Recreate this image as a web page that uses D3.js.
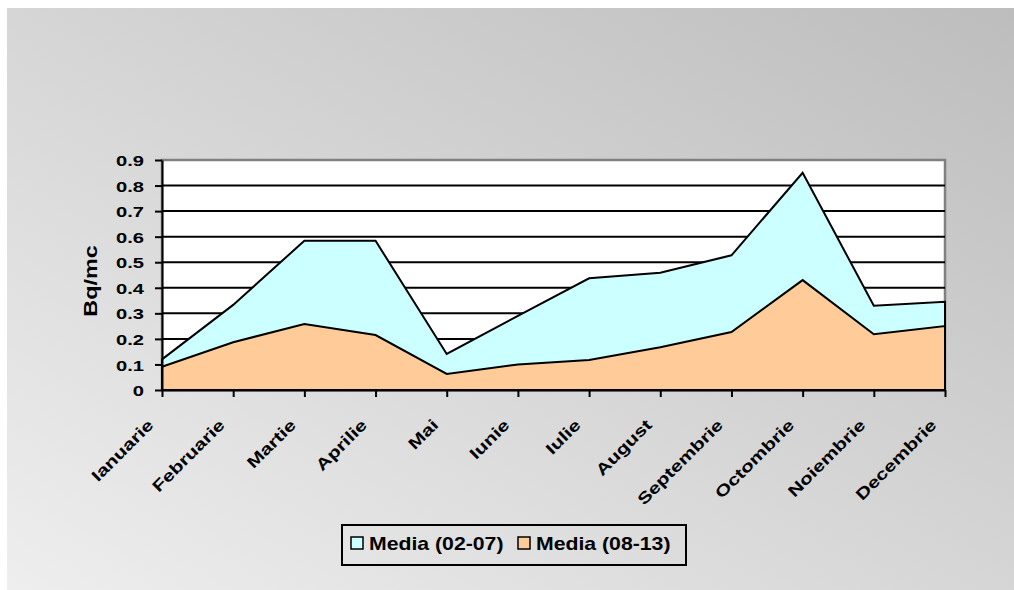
<!DOCTYPE html>
<html>
<head>
<meta charset="utf-8">
<script src="https://cdn.jsdelivr.net/npm/d3@7"></script>
<style>
  html, body { margin: 0; padding: 0; background: #ffffff; }
  svg { display: block; }
  text { font-family: "Liberation Sans", Arial, sans-serif; font-weight: bold; fill: #000; }
</style>
</head>
<body>
<svg id="chart" width="1014" height="590"></svg>
<script>
// ---- data ----
const months = ["Ianuarie","Februarie","Martie","Aprilie","Mai","Iunie","Iulie","August","Septembrie","Octombrie","Noiembrie","Decembrie"];
const media0207 = [0.12, 0.333, 0.584, 0.584, 0.141, 0.29, 0.437, 0.459, 0.527, 0.85, 0.33, 0.345];
const media0813 = [0.091, 0.187, 0.258, 0.215, 0.063, 0.10, 0.117, 0.167, 0.227, 0.43, 0.218, 0.25];
const yTicks = [0, 0.1, 0.2, 0.3, 0.4, 0.5, 0.6, 0.7, 0.8, 0.9];
const yTickLabels = ["0","0.1","0.2","0.3","0.4","0.5","0.6","0.7","0.8","0.9"];
const seriesNames = ["Media (02-07)", "Media (08-13)"];
const seriesColors = ["#CCFFFF", "#FFCC99"];
const yTitle = "Bq/mc";

// ---- layout ----
const svg = d3.select("#chart");
const plot = { left: 162, right: 945, top: 160, bottom: 390 };
const SX = 1.3; // horizontal stretch of glyphs

// background gradient
const defs = svg.append("defs");
const grad = defs.append("linearGradient").attr("id", "bg")
  .attr("x1", 0).attr("y1", 1).attr("x2", 1).attr("y2", 0);
grad.append("stop").attr("offset", "0%").attr("stop-color", "#eeeeee");
grad.append("stop").attr("offset", "100%").attr("stop-color", "#bdbdbd");
svg.append("rect").attr("x", 7).attr("y", 8).attr("width", 1007).attr("height", 582)
  .attr("fill", "url(#bg)");

// scales
const x = d3.scalePoint().domain(months).range([plot.left, plot.right]).padding(0);
const y = d3.scaleLinear().domain([0, 0.9]).range([plot.bottom, plot.top]);

// plot area
svg.append("rect").attr("x", plot.left).attr("y", plot.top)
  .attr("width", plot.right - plot.left).attr("height", plot.bottom - plot.top)
  .attr("fill", "#ffffff").attr("stroke", "#808080").attr("stroke-width", 2.5);

// gridlines
svg.append("g").selectAll("line").data(yTicks.filter(d => d > 0 && d < 0.9)).join("line")
  .attr("x1", plot.left).attr("x2", plot.right)
  .attr("y1", d => y(d)).attr("y2", d => y(d))
  .attr("stroke", "#000").attr("stroke-width", 2);

// areas
const series = [media0207, media0813];
series.forEach((vals, i) => {
  const area = d3.area()
    .x((d, j) => x(months[j]))
    .y0(y(0))
    .y1(d => y(d));
  svg.append("path").datum(vals)
    .attr("d", area)
    .attr("fill", seriesColors[i])
    .attr("stroke", "#000").attr("stroke-width", 2)
    .attr("stroke-linejoin", "miter");
});

// y axis
const yAxis = d3.axisLeft(y).tickValues(yTicks)
  .tickFormat((d, i) => yTickLabels[i]).tickSize(7).tickSizeOuter(0);
const gy = svg.append("g").attr("transform", `translate(${plot.left},0)`).call(yAxis);
gy.select(".domain").attr("stroke", "#000").attr("stroke-width", 2);
gy.selectAll(".tick line").attr("stroke", "#000").attr("stroke-width", 2);
gy.selectAll(".tick text")
  .attr("x", 0).attr("dy", "0.36em")
  .attr("transform", `translate(-18,0) scale(${SX},1)`)
  .style("font-size", "15.5px")
  .style("font-family", '"Liberation Sans", Arial, sans-serif')
  .style("font-weight", "bold")
  .attr("text-anchor", "end");

// x axis
const xAxis = d3.axisBottom(x).tickSize(7).tickSizeOuter(0);
const gx = svg.append("g").attr("transform", `translate(0,${plot.bottom})`).call(xAxis);
gx.select(".domain").attr("stroke", "#000").attr("stroke-width", 2);
gx.selectAll(".tick line").attr("stroke", "#000").attr("stroke-width", 2);
gx.selectAll(".tick text")
  .attr("x", 0).attr("y", 0).attr("dy", 0)
  .attr("transform", `translate(-8,36) rotate(-45) scale(${SX},1)`)
  .attr("text-anchor", "end")
  .style("font-size", "16px")
  .style("font-family", '"Liberation Sans", Arial, sans-serif')
  .style("font-weight", "bold");

// y title
svg.append("text")
  .attr("transform", `translate(97,281) rotate(-90) scale(${SX},1)`)
  .attr("text-anchor", "middle")
  .style("font-size", "18px")
  .text(yTitle);

// legend
const lg = svg.append("g");
lg.append("rect").attr("x", 342).attr("y", 525).attr("width", 344).attr("height", 40)
  .attr("fill", "none").attr("stroke", "#000").attr("stroke-width", 2);
const legendX = [351, 518];
seriesNames.forEach((name, i) => {
  lg.append("rect").attr("x", legendX[i]).attr("y", 537).attr("width", 12).attr("height", 12)
    .attr("fill", seriesColors[i]).attr("stroke", "#000").attr("stroke-width", 1.5);
  lg.append("text")
    .attr("transform", `translate(${legendX[i] + 18},550) scale(1.18,1)`)
    .style("font-size", "18px")
    .text(name);
});
</script>
</body>
</html>
